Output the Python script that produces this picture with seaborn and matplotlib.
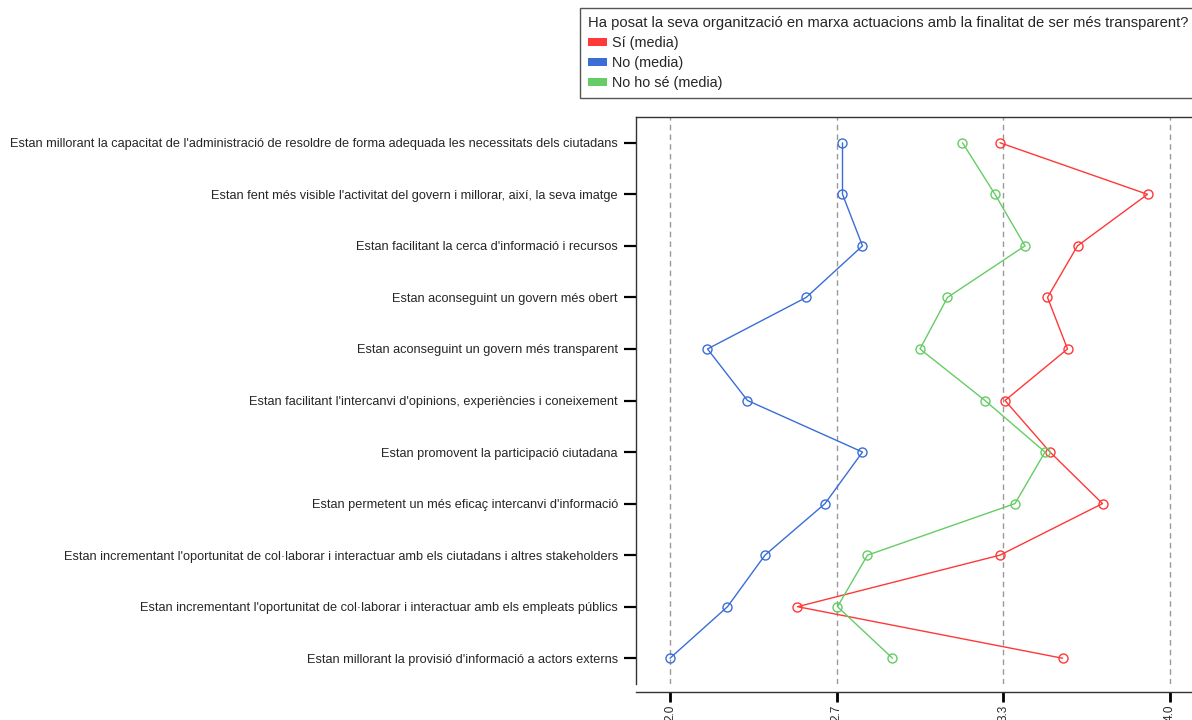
import numpy as np
import pandas as pd
import matplotlib
matplotlib.use('Agg')
import matplotlib.pyplot as plt
from matplotlib.patches import Patch
import seaborn as sns

# preguntes (eix vertical, de dalt a baix)
categories = [
    "Estan millorant la capacitat de l'administració de resoldre de forma adequada les necessitats dels ciutadans",
    "Estan fent més visible l'activitat del govern i millorar, així, la seva imatge",
    "Estan facilitant la cerca d'informació i recursos",
    "Estan aconseguint un govern més obert",
    "Estan aconseguint un govern més transparent",
    "Estan facilitant l'intercanvi d'opinions, experiències i coneixement",
    "Estan promovent la participació ciutadana",
    "Estan permetent un més eficaç intercanvi d'informació",
    "Estan incrementant l'oportunitat de col·laborar i interactuar amb els ciutadans i altres stakeholders",
    "Estan incrementant l'oportunitat de col·laborar i interactuar amb els empleats públics",
    "Estan millorant la provisió d'informació a actors externs",
]

# mitjanes llegides del gràfic
si_media = [3.32, 3.91, 3.63, 3.51, 3.59, 3.34, 3.52, 3.73, 3.32, 2.51, 3.57]
no_media = [2.69, 2.69, 2.77, 2.545, 2.15, 2.31, 2.77, 2.62, 2.38, 2.23, 2.00]
nose_media = [3.17, 3.30, 3.42, 3.11, 3.00, 3.26, 3.50, 3.38, 2.79, 2.67, 2.89]

series_names = ['Sí (media)', 'No (media)', 'No ho sé (media)']
colors = ['#ff3838', '#3a6ed6', '#66cc66']

x_ticks = [2.0, 8 / 3, 10 / 3, 4.0]
x_tick_labels = ['2.0', '2.7', '3.3', '4.0']
legend_title = 'Ha posat la seva organització en marxa actuacions amb la finalitat de ser més transparent?'

df = pd.DataFrame({
    'pregunta': categories * 3,
    'media': si_media + no_media + nose_media,
    'resposta': np.repeat(series_names, len(categories)),
})

sns.set_style('white')
plt.rcParams['font.family'] = ['Liberation Sans', 'DejaVu Sans']

fig = plt.figure(figsize=(11.92, 7.2), dpi=100)
ax = fig.add_axes([636 / 1192, 1 - 684 / 720, 570 / 1192, 567 / 720])

sns.pointplot(data=df, x='media', y='pregunta', hue='resposta',
              order=categories, hue_order=series_names, palette=colors,
              orient='y', errorbar=None, dodge=False, markers='o',
              linestyles='-', linewidth=1, markersize=6.5,
              markerfacecolor='none', markeredgewidth=1,
              legend=False, ax=ax)

ax.set_xlim(1.864, 1.864 + 570 / 250)
ax.set_ylim(len(categories) - 0.5, -0.5)
ax.set_xlabel('')
ax.set_ylabel('')

ax.set_xticks(x_ticks)
ax.set_xticklabels(x_tick_labels)
ax.xaxis.grid(True, linestyle=(0, (4, 3)), color='#999999', linewidth=1)
ax.set_axisbelow(True)
gl = ax.xaxis.get_gridlines()
gl[0].set_color('#222222')
gl[0].set_linestyle((0, (2, 2)))

ax.tick_params(axis='y', left=True, length=9, width=1.6, pad=4,
               labelsize=9.2, color='black')
ax.tick_params(axis='x', bottom=True, length=7, width=2, pad=2,
               labelsize=8.5, color='black', labelrotation=90)

for s in ['top', 'left', 'bottom']:
    ax.spines[s].set_visible(True)
    ax.spines[s].set_color('#333333')
    ax.spines[s].set_linewidth(1)
ax.spines['right'].set_visible(False)
ax.spines['bottom'].set_position(('outward', 6))

handles = [Patch(facecolor=c, edgecolor='none') for c in colors]
leg = fig.legend(handles, series_names, title=legend_title,
                 loc='upper left', bbox_to_anchor=(580 / 1192, 1 - 8 / 720),
                 fontsize=10.4, title_fontsize=10.6, alignment='left',
                 frameon=True, fancybox=False, framealpha=1,
                 handlelength=1.3, handleheight=0.5, handletextpad=0.4,
                 labelspacing=0.42, borderpad=0.55, borderaxespad=0)
leg.get_frame().set_edgecolor('#555555')
leg.get_frame().set_linewidth(1)

fig.savefig('out.png', dpi=100)
